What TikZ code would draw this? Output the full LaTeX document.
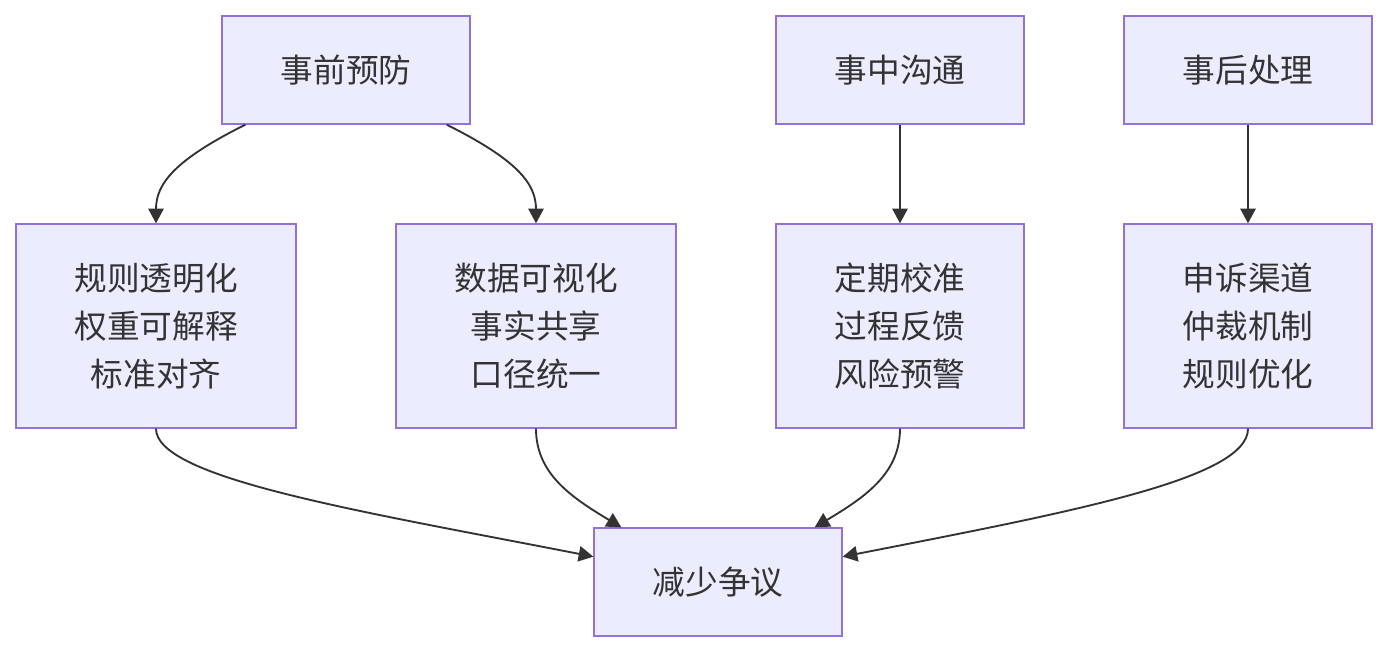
\documentclass[tikz,border=0pt]{standalone}
\usepackage{fontspec}
\setmainfont{Noto Sans CJK SC}
\usetikzlibrary{arrows.meta,calc}
\definecolor{boxfill}{HTML}{ECECFF}
\definecolor{boxline}{HTML}{9370DB}
\definecolor{ink}{HTML}{333333}
\begin{document}
\begin{tikzpicture}[x=0.75pt,y=-0.75pt,
  box/.style={draw=boxline,fill=boxfill,line width=1pt,text=ink,font=\fontsize{24.5}{36}\selectfont,align=center,inner sep=0pt,minimum width=186pt,minimum height=81pt},
  tallbox/.style={box,minimum height=153pt},
  widebox/.style={tallbox,minimum width=210pt},
  link/.style={draw=ink,line width=1.4pt,-{Triangle[length=11pt,width=11.5pt]}}]
\useasboundingbox[fill=white] (0,0) rectangle (1388,652);
\node[box] (pre) at (346,70) {事前预防};
\node[box] (mid) at (900,70) {事中沟通};
\node[box] (post) at (1248,70) {事后处理};
\node[widebox] (r1) at (156,326) {规则透明化\\权重可解释\\标准对齐};
\node[widebox] (r2) at (536,326) {数据可视化\\事实共享\\口径统一};
\node[tallbox] (r3) at (900,326) {定期校准\\过程反馈\\风险预警};
\node[tallbox] (r4) at (1248,326) {申诉渠道\\仲裁机制\\规则优化};
\node[box] (end) at (718,582) {减少争议};
\draw[link] ([xshift=18pt]pre.south west) .. controls +(-70,35) and +(0,-40) .. (r1.north);
\draw[link] ([xshift=-18pt]pre.south east) .. controls +(70,35) and +(0,-40) .. (r2.north);
\draw[link] (mid.south) -- (r3.north);
\draw[link] (post.south) -- (r4.north);
\draw[link] (r1.south) .. controls +(0,50) and +(-230,-45) .. ([yshift=19pt]end.west);
\draw[link] (r2.south) .. controls +(0,45) and +(-50,-30) .. ([xshift=21pt]end.north west);
\draw[link] (r3.south) .. controls +(0,45) and +(50,-30) .. ([xshift=-21pt]end.north east);
\draw[link] (r4.south) .. controls +(0,50) and +(230,-45) .. ([yshift=19pt]end.east);
\end{tikzpicture}
\end{document}
